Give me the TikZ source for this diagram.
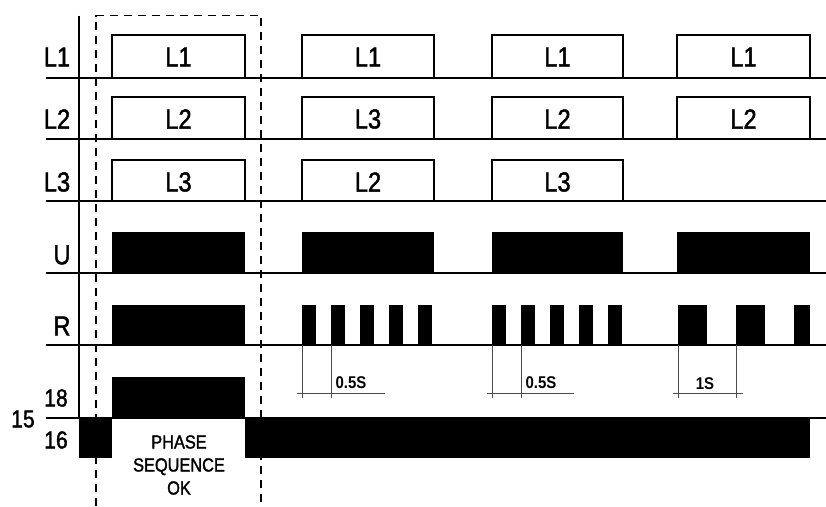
\documentclass[tikz,border=0pt]{standalone}
\usepackage{fontspec}
\setmainfont{Liberation Sans}[FakeStretch=0.86, FakeBold=1.6]
\newfontfamily\dimfont{Liberation Sans}[FakeStretch=0.88]
\begin{document}
\begin{tikzpicture}[x=1pt,y=-1pt,
  wave/.style={line width=2.8pt, line join=miter},
  base/.style={line width=1.1pt},
  blk/.style={fill=black},
  dimline/.style={line width=0.7pt, black!70},
  axis/.style={line width=1.2pt},
  dashbox/.style={line width=1.2pt, dash pattern=on 8pt off 6pt},
  lab/.style={font=\fontsize{27.5}{28}\selectfont, inner sep=0pt},
  numlab/.style={font=\fontsize{24.5}{25}\selectfont, inner sep=0pt},
  dimlab/.style={font=\dimfont\fontsize{17}{17}\selectfont\bfseries, inner sep=0pt},
  oklab/.style={font=\fontsize{19}{23}\selectfont, inner sep=0pt, align=center}
]
\useasboundingbox (0,0) rectangle (826,506);

% thin baselines
\foreach \y in {78,139,201,273,345,418}
  \draw[base] (46,\y) -- (826,\y);
% axis
\draw[axis] (79,15.7) -- (79,418);

% L1 waveform
\draw[wave] (79,78) -- (112,78) -- (112,35) -- (245,35) -- (245,78)
  -- (302,78) -- (302,35) -- (434,35) -- (434,78)
  -- (492,78) -- (492,35) -- (623,35) -- (623,78)
  -- (677,78) -- (677,35) -- (810,35) -- (810,78) -- (826,78);
% L2 waveform
\draw[wave] (79,139) -- (112,139) -- (112,97) -- (245,97) -- (245,139)
  -- (302,139) -- (302,97) -- (434,97) -- (434,139)
  -- (492,139) -- (492,97) -- (623,97) -- (623,139)
  -- (677,139) -- (677,97) -- (810,97) -- (810,139) -- (826,139);
% L3 waveform
\draw[wave] (79,201) -- (112,201) -- (112,160) -- (245,160) -- (245,201)
  -- (302,201) -- (302,160) -- (434,160) -- (434,201)
  -- (492,201) -- (492,160) -- (623,160) -- (623,201) -- (826,201);

% U blocks
\foreach \a/\b in {112/245,302/434,492/623,677/810}
  \fill[blk] (\a,232) rectangle (\b,273);

% R blocks
\fill[blk] (112,305) rectangle (245,345);
\foreach \k in {0,...,4} {
  \fill[blk] ({302+29*\k},305) rectangle ({316+29*\k},345);
  \fill[blk] ({492+29*\k},305) rectangle ({506+29*\k},345);
}
\fill[blk] (678,305) rectangle (707,345);
\fill[blk] (736,305) rectangle (765,345);
\fill[blk] (794,305) rectangle (810,345);

% 18 / 16 blocks
\fill[blk] (112,377) rectangle (245,418);
\fill[blk] (79,418) rectangle (112,458);
\fill[blk] (245,418) rectangle (810,458);

% dimension lines
\draw[dimline] (302,345) -- (302,398) (331,345) -- (331,398) (297,393) -- (385,393);
\draw[dimline] (492,345) -- (492,398) (521,345) -- (521,398) (487,393) -- (574,393);
\draw[dimline] (678,345) -- (678,398) (736,345) -- (736,398) (673,393) -- (743,393);
\node[dimlab] (d1) at (351,383) {0.5S};
\node[dimlab] (d2) at (541,383) {0.5S};
\node[dimlab] (d3) at (705,384) {1S};

% dashed box
\draw[dashbox] (96,506) -- (96,15.7) -- (261,15.7) -- (261,506);

% left labels
\node[lab] (l1) at (57,57) {L1};
\node[lab] (l2) at (57,119) {L2};
\node[lab] (l3) at (57,182) {L3};
\node[lab] (u) at (62,255) {U};
\node[lab] (r) at (62,326) {R};
\node[numlab] (n18) at (56,398) {18};
\node[numlab] (n15) at (23,419) {15};
\node[numlab] (n16) at (56,440) {16};

% pulse labels
\node[lab] (p11) at (178.5,57) {L1};
\node[lab] (p12) at (368,57) {L1};
\node[lab] (p13) at (557.5,57) {L1};
\node[lab] (p14) at (743.5,57) {L1};
\node[lab] (p21) at (178.5,119) {L2};
\node[lab] (p22) at (368,119) {L3};
\node[lab] (p23) at (557.5,119) {L2};
\node[lab] (p24) at (743.5,119) {L2};
\node[lab] (p31) at (178.5,182) {L3};
\node[lab] (p32) at (368,182) {L2};
\node[lab] (p33) at (557.5,182) {L3};

\node[oklab] (ok) at (179,465) {PHASE\\SEQUENCE\\OK};
\end{tikzpicture}
\end{document}
